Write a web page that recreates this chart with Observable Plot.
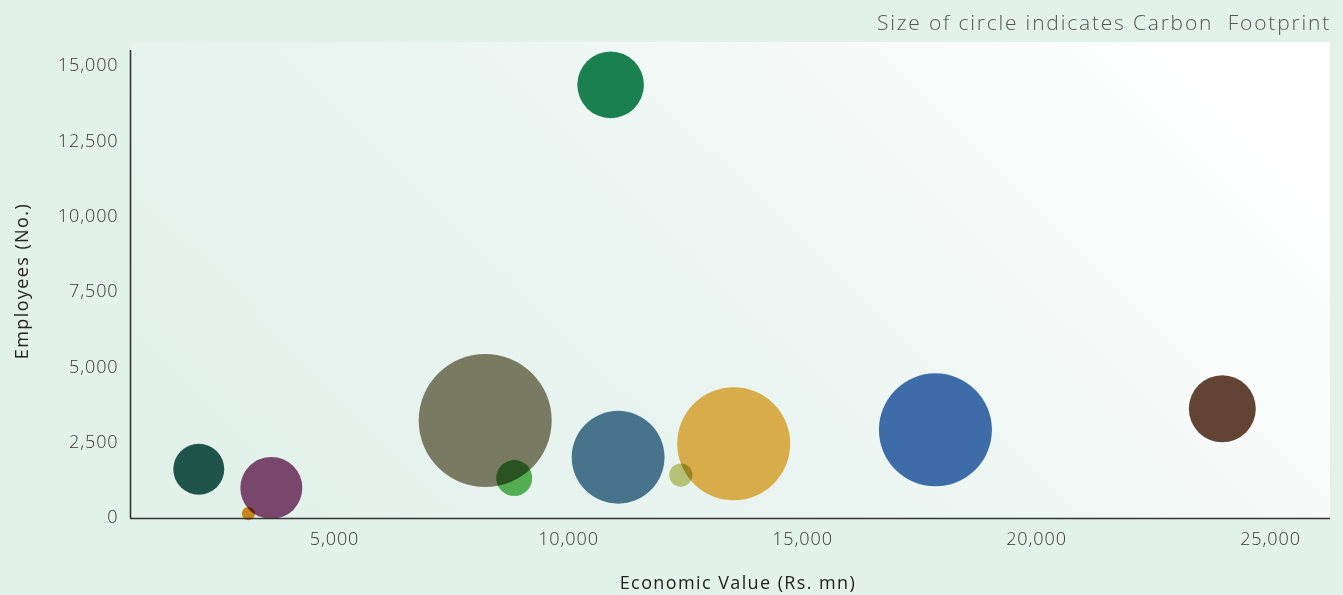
<!DOCTYPE html>
<html>
<head>
<meta charset="utf-8">
<script src="https://cdn.jsdelivr.net/npm/d3@7"></script>
<script src="https://cdn.jsdelivr.net/npm/@observablehq/plot@0.6"></script>
<style>
  html, body { margin: 0; padding: 0; background: #e3f1eb; }
  #chart { width: 1343px; height: 595px; }
</style>
</head>
<body>
<div id="chart"></div>
<script>
// Economic value (Rs. mn)
const economicValue = [2100, 3650, 3160, 8220, 8840, 10900, 11060, 12400, 13530, 17840, 23970];
// Employees (No.)
const employees = [1600, 980, 130, 3220, 1310, 14360, 2000, 1410, 2450, 2910, 3610];
// Carbon footprint (bubble size)
const carbon = [650, 961, 44, 4422, 324, 1109, 2153, 135, 3192, 3192, 1122];
const colors = ["#1e5449", "#7a476c", "#c4851a", "#797a62", "#55ad52", "#1a8050",
                "#47738d", "#b5c275", "#d8ac49", "#3d6ca8", "#624434"];
const xTicks = [5000, 10000, 15000, 20000, 25000];
const yTicks = [0, 2500, 5000, 7500, 10000, 12500, 15000];

const data = economicValue.map((v, i) => ({x: v, y: employees[i], r: carbon[i], c: colors[i]}));
const fmt = d3.format(",");
const FONT = "'Open Sans', sans-serif";

const chart = Plot.plot({
  width: 1343,
  height: 595,
  marginLeft: 130,
  marginRight: 13,
  marginTop: 50,
  marginBottom: 77,
  style: {background: "transparent", fontFamily: FONT, fontSize: "18px", color: "#333", letterSpacing: "0.9px"},
  x: {domain: [641, 26282], label: null},
  y: {domain: [-33, 15500], label: null},
  r: {type: "sqrt", domain: [0, 4422], range: [0, 66.5]},
  color: {type: "identity"},
  marks: [
    Plot.dot(data, {x: "x", y: "y", r: "r", fill: "c", stroke: "none"}),
    Plot.axisX({ticks: xTicks, tickFormat: fmt, tickSize: 0, tickPadding: 14, label: null, fontWeight: 300, fill: "#333"}),
    Plot.axisY({ticks: yTicks, tickFormat: fmt, tickSize: 0, tickPadding: 12, label: null, fontWeight: 300, fill: "#333"}),
    Plot.ruleY([-33], {stroke: "#333", strokeWidth: 1.6}),
    Plot.ruleX([641], {y1: -33, y2: 15500, stroke: "#333", strokeWidth: 1.6})
  ]
});

const svg = d3.select(chart);
// multiply blending between bubbles
svg.selectAll("circle").style("mix-blend-mode", "multiply");
svg.selectAll("circle").each(function() { d3.select(this.parentNode).style("isolation", "isolate"); });

// plot-area gradient background
const defs = svg.insert("defs", ":first-child");
const grad = defs.append("linearGradient").attr("id", "bgGrad")
  .attr("x1", "0").attr("y1", "0.7").attr("x2", "1").attr("y2", "0.3");
grad.append("stop").attr("offset", "0%").attr("stop-color", "#e3f1eb");
grad.append("stop").attr("offset", "40%").attr("stop-color", "#e9f4f0");
grad.append("stop").attr("offset", "100%").attr("stop-color", "#ffffff");
svg.insert("rect", "g").attr("x", 130).attr("y", 42).attr("width", 1200).attr("height", 476)
  .attr("fill", "url(#bgGrad)");

// titles
svg.append("text").attr("x", 1331).attr("y", 30).attr("text-anchor", "end")
  .style("font-family", FONT).style("font-size", "21px").style("font-weight", 300)
  .style("letter-spacing", "1.8px")
  .attr("fill", "#555").text("Size of circle indicates Carbon  Footprint")
  .style("white-space", "pre");
svg.append("text").attr("x", 738).attr("y", 589).attr("text-anchor", "middle")
  .style("font-family", FONT).style("font-size", "18px").style("font-weight", 400)
  .style("letter-spacing", "1.4px")
  .attr("fill", "#222").text("Economic Value (Rs. mn)");
svg.append("text").attr("transform", "translate(28,281) rotate(-90)").attr("text-anchor", "middle")
  .style("font-family", FONT).style("font-size", "18px").style("font-weight", 400)
  .style("letter-spacing", "1.4px")
  .attr("fill", "#222").text("Employees (No.)");

document.getElementById("chart").appendChild(chart);
</script>
</body>
</html>
